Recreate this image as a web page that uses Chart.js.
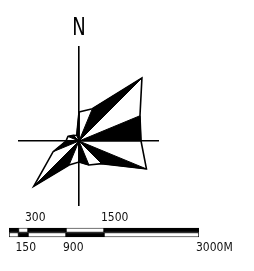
<!DOCTYPE html>
<html>
<head>
<meta charset="utf-8">
<script src="https://cdn.jsdelivr.net/npm/chart.js@4.4.1/dist/chart.umd.min.js"></script>
<style>
  html, body { margin: 0; padding: 0; background: #fff; }
  #cadre { position: relative; width: 254px; height: 271px; overflow: hidden; }
  #rose { position: absolute; left: 0; top: 0; }
  #echelle { position: absolute; left: 0; top: 205px; }
  #nord {
    position: absolute; left: 64px; top: 14px; width: 30px; text-align: center;
    font: 25px "Liberation Sans Narrow", "DejaVu Sans Condensed", sans-serif;
    line-height: 25px; color: #000;
    transform: scaleX(0.8);
  }
</style>
</head>
<body>
<div id="cadre">
  <canvas id="rose" width="254" height="271"></canvas>
  <canvas id="echelle" width="254" height="60"></canvas>
  <div id="nord">N</div>
</div>
<script>
// rose des vents : 16 directions, sens horaire depuis le nord
const directions = ["N", "NNE", "NE", "ENE", "E", "ESE", "SE", "SSE",
                    "S", "SSW", "SW", "WSW", "W", "WNW", "NW", "NNW"];
const frequences = [29, 35, 89, 66, 62, 73, 32, 26, 21, 26, 64, 28, 13, 12, 8, 6];

// échelle graphique (mètres)
const segments = [150, 150, 600, 600, 1500];
const couleursHaut = ["#000", "#fff", "#000", "#fff", "#000"];
const couleursBas = ["#fff", "#000", "#fff", "#000", "#fff"];
const ticksHaut = [300, 1500];
const ticksBas = [150, 900, 3000];

const policeEchelle = "'Liberation Sans Narrow', 'DejaVu Sans Condensed', sans-serif";

function pointDir(i) {
  const a = i * Math.PI / 8;
  const r = frequences[i % directions.length];
  return { x: r * Math.sin(a), y: r * Math.cos(a) };
}

const contour = directions.map((d, i) => pointDir(i));
contour.push(pointDir(0));

// un secteur sur deux est rempli de noir
const secteurs = [];
directions.forEach((d, i) => {
  if (i % 2 === 1) {
    secteurs.push({
      data: [{ x: 0, y: 0 }, pointDir(i), pointDir(i + 1), { x: 0, y: 0 }],
      showLine: true,
      fill: "shape",
      backgroundColor: "#000",
      borderColor: "#000",
      borderWidth: 1,
      pointRadius: 0
    });
  }
});

new Chart(document.getElementById("rose"), {
  type: "scatter",
  data: {
    datasets: [{
      data: contour,
      showLine: true,
      fill: false,
      borderColor: "#000",
      borderWidth: 1.6,
      pointRadius: 0
    }, ...secteurs]
  },
  options: {
    responsive: false,
    animation: false,
    events: [],
    layout: { padding: { left: 19, right: 96, top: 47, bottom: 66 } },
    scales: {
      x: {
        type: "linear", min: -60, max: 79,
        position: { y: 0 },
        grid: { display: false },
        ticks: { display: false },
        border: { color: "#000", width: 1.6 }
      },
      y: {
        type: "linear", min: -64, max: 94,
        position: { x: 0 },
        grid: { display: false },
        ticks: { display: false },
        border: { color: "#000", width: 1.6 }
      }
    },
    plugins: { legend: { display: false }, tooltip: { enabled: false } }
  }
});

new Chart(document.getElementById("echelle"), {
  type: "bar",
  data: {
    labels: ["haut", "bas"],
    datasets: segments.map((longueur, k) => ({
      data: [longueur, longueur],
      backgroundColor: [couleursHaut[k], couleursBas[k]],
      borderColor: "#000",
      borderWidth: 1,
      borderSkipped: false,
      barPercentage: 1,
      categoryPercentage: 1
    }))
  },
  options: {
    indexAxis: "y",
    responsive: false,
    animation: false,
    events: [],
    layout: { padding: { left: 9, right: 55, top: 2.4, bottom: 7.4 } },
    scales: {
      x: {
        type: "linear", stacked: true, min: 0, max: 3000,
        position: "bottom",
        grid: { display: false, drawTicks: false },
        border: { display: false },
        afterBuildTicks: ax => { ax.ticks = ticksBas.map(v => ({ value: v })); },
        ticks: {
          align: "start", labelOffset: -3, padding: 3, maxRotation: 0, autoSkip: false,
          color: "#111", font: { family: policeEchelle, size: 12 },
          callback: v => (v === 3000 ? v + "M" : String(v))
        }
      },
      xHaut: {
        type: "linear", min: 0, max: 3000,
        position: "top",
        grid: { display: false, drawTicks: false },
        border: { display: false },
        afterBuildTicks: ax => { ax.ticks = ticksHaut.map(v => ({ value: v })); },
        ticks: {
          align: "start", labelOffset: -3, padding: 3, maxRotation: 0, autoSkip: false,
          color: "#111", font: { family: policeEchelle, size: 12 },
          callback: v => String(v)
        }
      },
      y: { stacked: true, display: false }
    },
    plugins: { legend: { display: false }, tooltip: { enabled: false } }
  }
});
</script>
</body>
</html>
